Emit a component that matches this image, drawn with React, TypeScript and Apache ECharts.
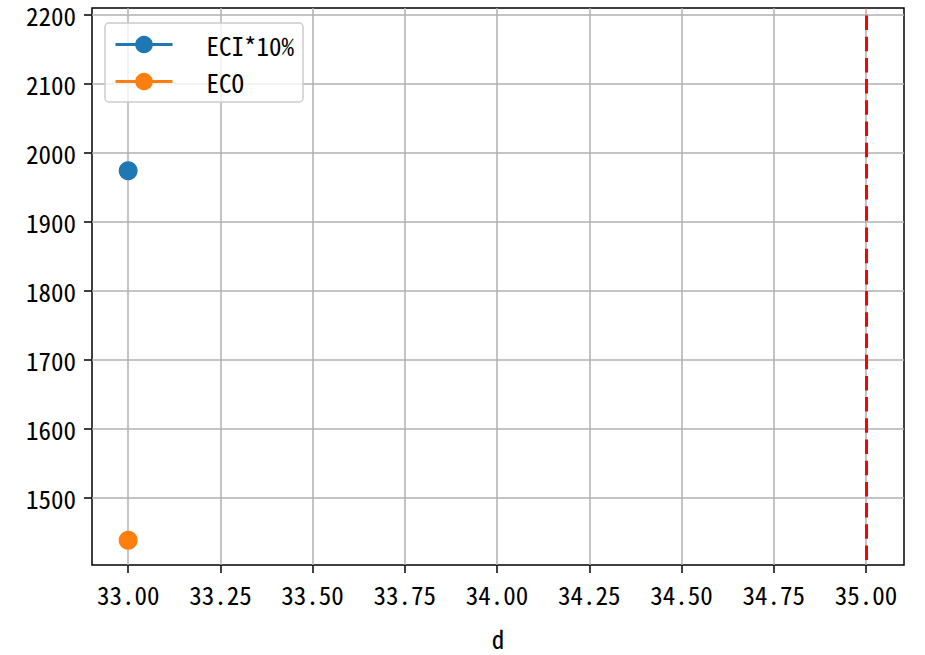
import React, { useEffect, useRef } from "react";
import * as echarts from "echarts";

const xTicks = [33, 33.25, 33.5, 33.75, 34, 34.25, 34.5, 34.75, 35];
const yTicks = [1500, 1600, 1700, 1800, 1900, 2000, 2100, 2200];
const seriesNames = ["ECI*10%", "ECO"];
const eciData = [[33, 1974]];
const ecoData = [[33, 1438]];
const markX = 35;
const xRange = [32.902, 35.103];
const yRange = [1402.2, 2209.9];
const xName = "d";

const FONT = "'Noto Sans Mono CJK SC', 'Noto Sans CJK SC', 'DejaVu Sans Mono', monospace";
const FS = 25;

export default function App() {
  const ref = useRef<HTMLDivElement>(null);
  useEffect(() => {
    if (!ref.current) return;
    const chart = echarts.init(ref.current, undefined, { renderer: "svg" });
    chart.setOption({
      animation: false,
      backgroundColor: "#fff",
      textStyle: { fontFamily: FONT },
      grid: {
        left: 92,
        right: 21,
        top: 8,
        bottom: 77,
        show: true,
        borderColor: "#000",
        borderWidth: 1.5,
        backgroundColor: "transparent",
      },
      legend: {
        left: 105,
        top: 23,
        orient: "vertical",
        data: seriesNames,
        itemWidth: 57,
        itemHeight: 22,
        itemGap: 12,
        padding: [9, 9, 8, 9],
        borderColor: "#cccccc",
        borderWidth: 1.5,
        borderRadius: 4,
        backgroundColor: "rgba(255,255,255,0.8)",
        lineStyle: { width: 3 },
        textStyle: {
          fontFamily: FONT,
          fontSize: FS,
          color: "#000",
          padding: [0, 0, 0, 29],
        },
      },
      xAxis: {
        type: "value",
        min: xRange[0],
        max: xRange[1],
        name: xName,
        nameLocation: "middle",
        nameGap: 60,
        nameTextStyle: { fontSize: FS, color: "#000", fontFamily: FONT },
        axisLine: { show: false },
        axisTick: {
          show: true,
          inside: false,
          length: 8,
          lineStyle: { color: "#000", width: 1.5 },
          customValues: xTicks,
        },
        axisLabel: {
          customValues: xTicks,
          formatter: (v: number) => v.toFixed(2),
          fontSize: FS,
          color: "#000",
          margin: 16,
          fontFamily: FONT,
        },
        splitLine: { show: true, lineStyle: { color: "#b0b0b0", width: 1.5 } },
      },
      yAxis: {
        type: "value",
        min: yRange[0],
        max: yRange[1],
        axisLine: { show: false },
        axisTick: {
          show: true,
          inside: false,
          length: 8,
          lineStyle: { color: "#000", width: 1.5 },
          customValues: yTicks,
        },
        axisLabel: {
          customValues: yTicks,
          formatter: (v: number) => String(v),
          fontSize: FS,
          lineHeight: 18,
          color: "#000",
          margin: 16,
          fontFamily: FONT,
        },
        splitLine: { show: true, lineStyle: { color: "#b0b0b0", width: 1.5 } },
      },
      series: [
        {
          name: seriesNames[0],
          type: "line",
          data: eciData,
          symbol: "circle",
          symbolSize: 19,
          color: "#1f77b4",
          lineStyle: { width: 3, color: "#1f77b4" },
          itemStyle: { color: "#1f77b4" },
          markLine: {
            silent: true,
            symbol: ["none", "none"],
            label: { show: false },
            lineStyle: { color: "#ff0000", type: [14.5, 6.7], dashOffset: -5, width: 3 },
            data: [{ xAxis: markX }],
          },
        },
        {
          name: seriesNames[1],
          type: "line",
          data: ecoData,
          symbol: "circle",
          symbolSize: 19,
          color: "#ff7f0e",
          lineStyle: { width: 3, color: "#ff7f0e" },
          itemStyle: { color: "#ff7f0e" },
        },
      ],
    });
    return () => chart.dispose();
  }, []);
  return (
    <div
      ref={ref}
      style={{ position: "fixed", left: 0, top: 0, width: 925, height: 655 }}
    />
  );
}
